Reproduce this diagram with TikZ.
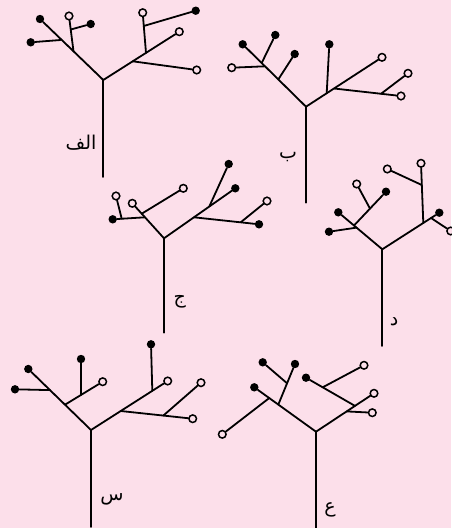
\documentclass[tikz,border=0pt]{standalone}
\usepackage{fontspec}
\newfontfamily\arabicfont[Script=Arabic]{DejaVu Sans}
\TeXXeTstate=1
\definecolor{bg}{RGB}{252,223,234}
\tikzset{
  br/.style={line width=1.8pt, line cap=round, line join=round},
  fdot/.style={circle, fill=black, inner sep=0pt, minimum size=8.4pt},
  odot/.style={circle, draw=black, line width=1.5pt, fill=bg, inner sep=0pt, minimum size=7.6pt},
  lab/.style={font=\arabicfont\fontsize{19}{22}\selectfont, text=black, inner sep=0pt}
}
\begin{document}
\begin{tikzpicture}[x=1pt,y=-1pt]
\useasboundingbox (0,0) rectangle (451,528);
\fill[bg] (0,0) rectangle (451,528);

% ---------- Tree alef ----------
\coordinate (a0) at (103.3,80);
\coordinate (abot) at (103.3,177);
\node[fdot] (aL) at (40,19) {};
\coordinate (aj1) at (73.5,51.3);
\node[odot] (aL1) at (69,16) {};
\coordinate (aj11) at (70.8,29.5);
\node[fdot] (aL11) at (90.7,24) {};
\coordinate (aj2) at (60.5,40);
\node[fdot] (aL2) at (30.7,42.3) {};
\node[odot] (aR) at (179.3,31.7) {};
\coordinate (aj3) at (132.7,61.3);
\node[odot] (aR3) at (196.7,70) {};
\coordinate (aj4) at (146,52.9);
\node[odot] (aR4) at (142.7,12.7) {};
\coordinate (aj41) at (143.7,26);
\node[fdot] (aR41) at (195.7,10.7) {};
\draw[br] (abot) -- (a0);
\draw[br] (aL) -- (a0) -- (aR);
\draw[br] (aj1) -- (aL1);
\draw[br] (aj11) -- (aL11);
\draw[br] (aj2) -- (aL2);
\draw[br] (aj3) -- (aR3);
\draw[br] (aj4) -- (aR4);
\draw[br] (aj41) -- (aR41);
\node[lab] (la) at (81,143) {\beginR الف\endR};

% ---------- Tree be ----------
\coordinate (b0) at (306,106.7);
\coordinate (bbot) at (306,202.7);
\node[fdot] (bL) at (242.7,44.3) {};
\coordinate (bj1) at (278.3,79.4);
\node[fdot] (bL1) at (294.7,54) {};
\coordinate (bj2) at (261.7,63);
\node[fdot] (bL2) at (275.3,35) {};
\coordinate (bj3) at (265,66.3);
\node[odot] (bL3) at (231.7,67.7) {};
\node[odot] (bR) at (382,57.3) {};
\coordinate (bj4) at (326.7,93.2);
\node[fdot] (bR4) at (329.3,44.3) {};
\coordinate (bj5) at (334,88.5);
\node[odot] (bR5) at (401,96) {};
\coordinate (bj51) at (381,93.8);
\node[odot] (bR51) at (408,73.3) {};
\draw[br] (bbot) -- (b0);
\draw[br] (bL) -- (b0) -- (bR);
\draw[br] (bj1) -- (bL1);
\draw[br] (bj2) -- (bL2);
\draw[br] (bj3) -- (bL3);
\draw[br] (bj4) -- (bR4);
\draw[br] (bj5) -- (bR5);
\draw[br] (bj51) -- (bR51);
\node[lab] (lb) at (288,157) {\beginR ب\endR};

% ---------- Tree jim ----------
\coordinate (c0) at (164,238.3);
\coordinate (cbot) at (164,332.7);
\node[odot] (cL) at (132.3,203.3) {};
\coordinate (cj1) at (145,217.3);
\node[fdot] (cL1) at (112.7,219.3) {};
\coordinate (cj11) at (121.7,218.7);
\node[odot] (cL11) at (116,196) {};
\coordinate (cj2) at (141.7,213.7);
\node[odot] (cL2) at (183.3,188.3) {};
\node[fdot] (cR) at (235.3,188.3) {};
\coordinate (cj3) at (194,217.3);
\node[fdot] (cR3) at (259,224.3) {};
\coordinate (cj31) at (240.7,222.3);
\node[odot] (cR31) at (267,201) {};
\coordinate (cj4) at (209.3,206.5);
\node[fdot] (cR4) at (228.7,164) {};
\draw[br] (cbot) -- (c0);
\draw[br] (cL) -- (c0) -- (cR);
\draw[br] (cj1) -- (cL1);
\draw[br] (cj11) -- (cL11);
\draw[br] (cj2) -- (cL2);
\draw[br] (cj3) -- (cR3);
\draw[br] (cj31) -- (cR31);
\draw[br] (cj4) -- (cR4);
\node[lab] (lc) at (179.7,302) {\beginR ج\endR};

% ---------- Tree dal ----------
\coordinate (d0) at (382.3,249.3);
\coordinate (dbot) at (382.3,346);
\node[fdot] (dL) at (338.3,212.3) {};
\coordinate (dj1) at (356.7,227.6);
\node[fdot] (dL1) at (329,231.7) {};
\coordinate (dj2) at (354,225.5);
\node[fdot] (dL2) at (386,191.7) {};
\coordinate (dj21) at (370,208.6);
\node[odot] (dL21) at (356.7,184) {};
\node[fdot] (dR) at (439.3,212.7) {};
\coordinate (dj3) at (423.3,223);
\node[odot] (dR3) at (421,163.3) {};
\coordinate (dj31) at (421.8,185);
\node[odot] (dR31) at (387.3,169) {};
\coordinate (dj4) at (431,218);
\node[odot] (dR4) at (450.7,231) {};
\draw[br] (dbot) -- (d0);
\draw[br] (dL) -- (d0) -- (dR);
\draw[br] (dj1) -- (dL1);
\draw[br] (dj2) -- (dL2);
\draw[br] (dj21) -- (dL21);
\draw[br] (dj3) -- (dR3);
\draw[br] (dj31) -- (dR31);
\draw[br] (dj4) -- (dR4);
\node[lab] (ld) at (394,322) {\beginR د\endR};

% ---------- Tree sin ----------
\coordinate (s0) at (91,430);
\coordinate (sbot) at (91,527);
\node[fdot] (sL) at (28.3,369) {};
\coordinate (sj1) at (65,404.7);
\node[odot] (sL1) at (102.7,381.7) {};
\coordinate (sj11) at (81,395);
\node[fdot] (sL11) at (81,359) {};
\coordinate (sj2) at (50,390.1);
\node[fdot] (sL2) at (15,389.3) {};
\node[odot] (sR) at (167.7,381) {};
\coordinate (sj3) at (152.3,390.8);
\node[fdot] (sR3) at (151,344.3) {};
\coordinate (sj4) at (120.7,411);
\node[odot] (sR4) at (192.7,418.7) {};
\coordinate (sj41) at (163.3,415.6);
\node[odot] (sR41) at (201,382.7) {};
\draw[br] (sbot) -- (s0);
\draw[br] (sL) -- (s0) -- (sR);
\draw[br] (sj1) -- (sL1);
\draw[br] (sj11) -- (sL11);
\draw[br] (sj2) -- (sL2);
\draw[br] (sj3) -- (sR3);
\draw[br] (sj4) -- (sR4);
\draw[br] (sj41) -- (sR41);
\node[lab] (ls) at (112,499) {\beginR س\endR};

% ---------- Tree ein ----------
\coordinate (e0) at (316,431.7);
\coordinate (ebot) at (316,528);
\node[fdot] (eL) at (254.3,387.3) {};
\coordinate (ej1) at (278.3,404.6);
\node[fdot] (eL1) at (295,364) {};
\coordinate (ej11) at (287.1,383.3);
\node[fdot] (eL11) at (262.7,362.3) {};
\coordinate (ej2) at (269.3,398);
\node[odot] (eL2) at (222.3,434.3) {};
\node[odot] (eR) at (374,393.3) {};
\coordinate (ej3) at (346.7,411.4);
\node[odot] (eR3) at (372.3,412.7) {};
\coordinate (ej4) at (355,405.9);
\node[fdot] (eR4) at (306,377.7) {};
\coordinate (ej41) at (322.7,387.3);
\node[odot] (eR41) at (364,365.3) {};
\draw[br] (ebot) -- (e0);
\draw[br] (eL) -- (e0) -- (eR);
\draw[br] (ej1) -- (eL1);
\draw[br] (ej11) -- (eL11);
\draw[br] (ej2) -- (eL2);
\draw[br] (ej3) -- (eR3);
\draw[br] (ej4) -- (eR4);
\draw[br] (ej41) -- (eR41);
\node[lab] (le) at (330,510) {\beginR ع\endR};
\end{tikzpicture}
\end{document}
